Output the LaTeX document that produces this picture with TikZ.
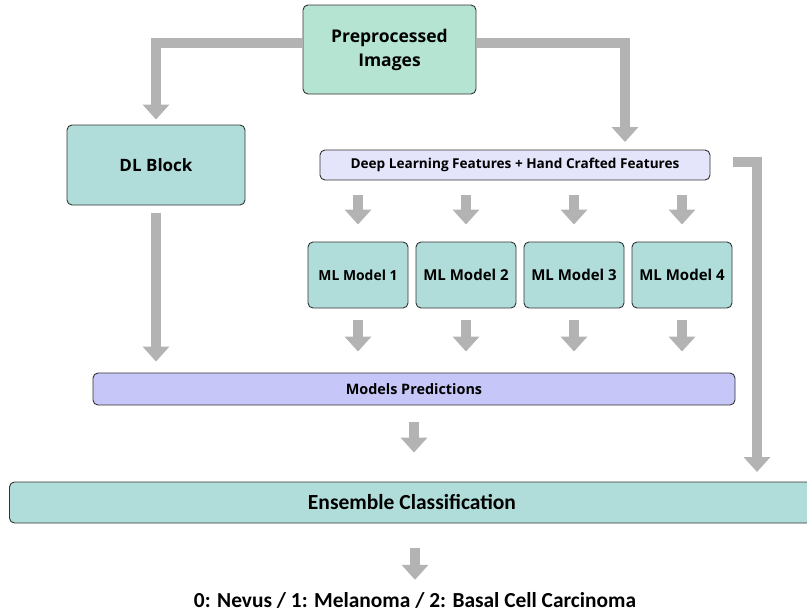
\documentclass[tikz,border=0pt]{standalone}
\usepackage{fontspec}
\setmainfont{Open Sans}
\newfontfamily\condfont{Carlito}
\usetikzlibrary{positioning, arrows.meta, calc}

\definecolor{mint}{HTML}{B5E4D3}
\definecolor{teal}{HTML}{B0DDD9}
\definecolor{lilac}{HTML}{E4E4FB}
\definecolor{violet}{HTML}{C6C6F9}
\definecolor{arrowgray}{HTML}{B3B3B3}

\begin{document}
\begin{tikzpicture}[x=1pt, y=-1pt,
					box/.style={draw=black!80, line width=0.9pt, rounded corners=5pt, align=center, font=\bfseries, inner sep=0pt},
					garrow/.style={draw=arrowgray, line width=10pt, -{Triangle[width=26pt,length=15pt]}, arrowgray}]
	\useasboundingbox (0,0) rectangle (807,614);
	% top input
	\node[box, fill=mint, minimum width=173pt, minimum height=89pt, font=\bfseries\fontsize{17.5}{24}\selectfont] (pre) at (389.5,49.5) {Preprocessed\\Images};
	\node[box, fill=teal, minimum width=178pt, minimum height=80pt, font=\bfseries\fontsize{17}{20}\selectfont] (dl) at (156,165) {DL Block};
	\node[box, fill=lilac, minimum width=390pt, minimum height=30pt, font=\bfseries\fontsize{13.6}{16}\selectfont] (feat) at (515,165) {Deep Learning Features + Hand Crafted Features};
	% models
	\foreach \i/\x/\s in {1/358/13.9, 2/466/15, 3/574/15, 4/682/15}
		\node[box, fill=teal, minimum width=100pt, minimum height=66pt, font=\bfseries\fontsize{\s}{18}\selectfont] (ml\i) at (\x,275) {ML Model \i};
	\node[box, fill=violet, minimum width=642pt, minimum height=32pt, font=\bfseries\fontsize{14.4}{17}\selectfont] (pred) at (414,389) {Models Predictions};
	\node[box, fill=teal, minimum width=805pt, minimum height=41pt, font=\condfont\bfseries\fontsize{21.5}{25}\selectfont] (ens) at (412,502.5) {Ensemble Classification};
	\node[font=\condfont\bfseries\fontsize{21.4}{25}\selectfont, inner sep=0pt] (out) at (415,600) {0: Nevus / 1: Melanoma / 2: Basal Cell Carcinoma};
	\coordinate (featin) at (625,150);
	\coordinate (ensin) at (757,482);
	% connectors
	\draw[garrow, shorten >=5pt] ([yshift=7pt]pre.west) -| (dl.north);
	\draw[garrow, shorten >=8pt] ([yshift=7pt]pre.east) -| (featin);
	\draw[garrow, shorten >=10pt] ([xshift=23pt,yshift=3pt]feat.east) -| (ensin);
	\foreach \i in {1,...,4} {
		\draw[garrow, shorten <=15pt, shorten >=17pt] (feat.south -| ml\i.north) -- (ml\i.north);
		\draw[garrow, shorten <=12pt, shorten >=21pt] (ml\i.south) -- (ml\i.south |- pred.north);
	}
	\draw[garrow, shorten <=8pt, shorten >=11pt] (dl.south) -- (dl.south |- pred.north);
	\draw[garrow, shorten <=17pt, shorten >=29pt] (pred.south) -- (pred.south |- ens.north);
	\draw[garrow, shorten <=25pt, shorten >=12pt] (out.north |- ens.south) -- (out.north);
\end{tikzpicture}
\end{document}
